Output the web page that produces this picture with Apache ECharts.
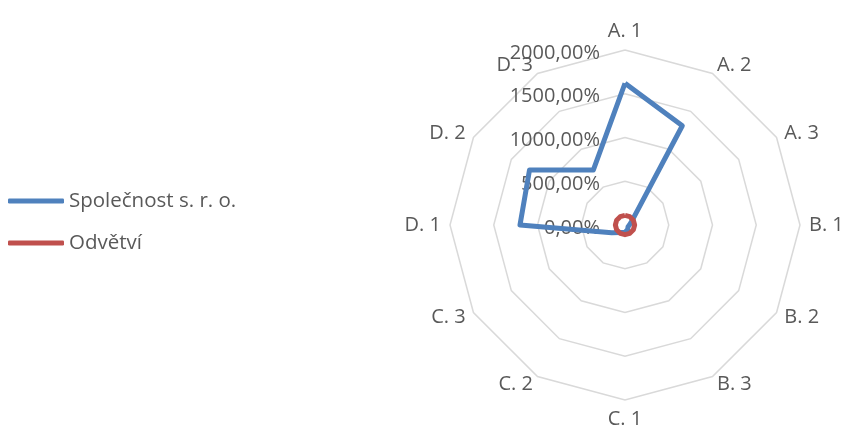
<!DOCTYPE html>
<html>
<head>
<meta charset="utf-8">
<script src="https://cdn.jsdelivr.net/npm/echarts@6/dist/echarts.min.js"></script>
<style>
  html, body { margin: 0; padding: 0; background: #ffffff; }
  #chart { width: 846px; height: 433px; }
</style>
</head>
<body>
<div id="chart"></div>
<script>
// Indicators listed clockwise from the top
const categories = ['A. 1', 'A. 2', 'A. 3', 'B. 1', 'B. 2', 'B. 3', 'C. 1', 'C. 2', 'C. 3', 'D. 1', 'D. 2', 'D. 3'];
// Values in percent
const spolecnost = [1620, 1310, 90, 50, 40, 60, 85, 100, 175, 1200, 1260, 725];
const odvetvi = [110, 110, 110, 110, 110, 110, 110, 110, 110, 110, 110, 110];
const seriesNames = ['Společnost s. r. o.', 'Odvětví'];
const axisMax = 2000;

const FONT = '"Open Sans"';
const TEXT = '#595959';

// ECharts lays radar indicators out counter-clockwise, so keep the first one
// at the top and reverse the remaining ones to get a clockwise order.
const order = [0].concat(categories.slice(1).map((_, i) => categories.length - 1 - i));
const reorder = arr => order.map(i => arr[i]);

const indicators = reorder(categories).map((name, i) => ({
  name: name,
  min: 0,
  max: axisMax,
  axisLabel: { show: i === 0 }
}));

const fmtPct = v => v.toFixed(2).replace('.', ',') + '%';

const chart = echarts.init(document.getElementById('chart'), null, { renderer: 'canvas' });
chart.setOption({
  backgroundColor: '#ffffff',
  animation: false,
  color: ['#4F81BD', '#C0504D'],
  legend: {
    orient: 'vertical',
    left: 3,
    top: 184,
    itemWidth: 56,
    itemHeight: 5,
    itemGap: 18,
    icon: 'roundRect',
    data: seriesNames,
    textStyle: { color: TEXT, fontFamily: FONT, fontSize: 20.5, lineHeight: 24 }
  },
  radar: {
    center: [625, 225],
    radius: 175,
    startAngle: 90,
    splitNumber: 4,
    shape: 'polygon',
    nameGap: 9,
    axisName: { color: TEXT, fontFamily: FONT, fontSize: 20 },
    axisLine: { show: false },
    axisTick: { show: false },
    axisLabel: {
      show: false,
      margin: 25,
      color: TEXT,
      fontFamily: FONT,
      fontSize: 20,
      verticalAlign: 'top',
      lineHeight: 6,
      formatter: fmtPct
    },
    splitLine: { lineStyle: { color: '#D9D9D9', width: 1.5 } },
    splitArea: { show: false },
    indicator: indicators
  },
  series: [{
    type: 'radar',
    symbol: 'none',
    data: [
      { name: seriesNames[0], value: reorder(spolecnost),
        lineStyle: { width: 5, color: '#4F81BD', join: 'round' } },
      { name: seriesNames[1], value: reorder(odvetvi),
        lineStyle: { width: 5, color: '#C0504D', join: 'round' } }
    ]
  }]
});
</script>
</body>
</html>
